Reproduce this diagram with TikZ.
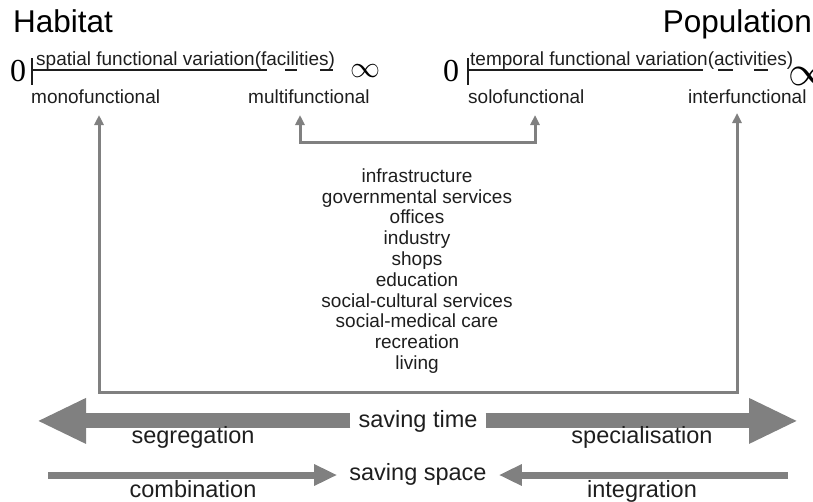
\documentclass[tikz,border=0pt]{standalone}
\usepackage{fontspec}
\setmainfont{Liberation Sans}
\newfontfamily\numfont{Liberation Serif}
\usepackage{tikz}
\usetikzlibrary{positioning,arrows.meta,calc}
\definecolor{arrowgray}{HTML}{808080}
\definecolor{inkdark}{HTML}{1E1E1E}

\begin{document}
\begin{tikzpicture}[x=1pt,y=-1pt,
  title/.style={font=\fontsize{31.5}{34}\selectfont,inner sep=0pt},
  small/.style={font=\fontsize{19}{22}\selectfont,inner sep=0pt,text=inkdark},
  big/.style={font=\fontsize{23.5}{26}\selectfont,inner sep=0pt,text=inkdark},
  zero/.style={font=\numfont\fontsize{32}{34}\selectfont,inner sep=0pt},
  scaleline/.style={inkdark,line width=2.5pt},
  conn/.style={arrowgray,line width=3pt,line join=miter,
    {Triangle[length=10pt,width=9pt]}-{Triangle[length=10pt,width=9pt]}},
  bigarrow/.style={arrowgray,line width=15pt,-{Triangle[length=49pt,width=42pt]}},
  thinarrow/.style={arrowgray,line width=7pt,-{Triangle[length=23pt,width=20pt]}}]
  \useasboundingbox (0,0) rectangle (813,501);
  % ---- habitat scale ----
  \node[title,anchor=base west] (habitat) at (13,32) {Habitat};
  \node[zero,anchor=west] (zeroA) at (10,71) {0};
  \draw[scaleline] (32,58) -- (32,85);
  \draw[scaleline] (32,70) -- (267,70);
  \foreach \a/\b in {285/297,320/333} \draw[scaleline] (\a,70) -- (\b,70);
  \node (infA) at (365,71) {\scalebox{3}{$\infty$}};
  \node[small,anchor=base west] (spatial) at (36,65) {spatial functional variation(facilities)};
  \node[small,anchor=base west] (mono) at (31,103) {monofunctional};
  \node[small,anchor=base west] (multi) at (248,103) {multifunctional};
  % ---- population scale ----
  \node[title,anchor=base east] (population) at (812,32) {Population};
  \node[zero,anchor=west] (zeroB) at (443,71) {0};
  \draw[scaleline] (468,58) -- (468,85);
  \draw[scaleline] (468,70) -- (703,70);
  \foreach \a/\b in {718/733,754/768} \draw[scaleline] (\a,70) -- (\b,70);
  \node (infB) at (809,76) {\scalebox{4.2}{$\infty$}};
  \node[small,anchor=base west] (temporal) at (470,65) {temporal functional variation(activities)};
  \node[small,anchor=base west] (solo) at (468,103) {solofunctional};
  \node[small,anchor=base west] (inter) at (688,103) {interfunctional};
  % ---- functions ----
  \node[small,align=center,font=\fontsize{19}{20.8}\selectfont] (functions) at (417,271)
    {infrastructure\\governmental services\\offices\\industry\\shops\\education\\
     social-cultural services\\social-medical care\\recreation\\living};
  % ---- connectors ----
  \coordinate (bl) at (99,392);
  \coordinate (br) at (737,392);
  \coordinate (kl) at (300,142);
  \coordinate (kr) at (535,142);
  \draw[conn] ([yshift=-12pt]mono.base -| bl) -- (bl) -- (br) -- ([yshift=-10pt]inter.base -| br);
  \draw[conn] ([yshift=-12pt]multi.base -| kl) -- (kl) -- (kr) -- ([yshift=-12pt]solo.base -| kr);
  % ---- saving time ----
  \node[big,anchor=base,inner xsep=8pt] (time) at (418,427) {saving time};
  \coordinate (tl) at (37,421);
  \coordinate (tr) at (798,421);
  \draw[bigarrow] (time.west) -- (time.west -| tl);
  \draw[bigarrow] (time.east) -- (time.east -| tr);
  \node[big,anchor=base] (segregation) at (193,443) {segregation};
  \node[big,anchor=base] (specialisation) at (642,443) {specialisation};
  % ---- saving space ----
  \node[big,anchor=base,inner xsep=12pt] (space) at (418,480) {saving space};
  \coordinate (cl) at (48,475);
  \coordinate (cr) at (788,475);
  \draw[thinarrow] (cl) -- (cl -| space.west);
  \draw[thinarrow] (cr) -- (cr -| space.east);
  \node[big,anchor=base] (combination) at (193,497) {combination};
  \node[big,anchor=base] (integration) at (642,497) {integration};
\end{tikzpicture}
\end{document}
